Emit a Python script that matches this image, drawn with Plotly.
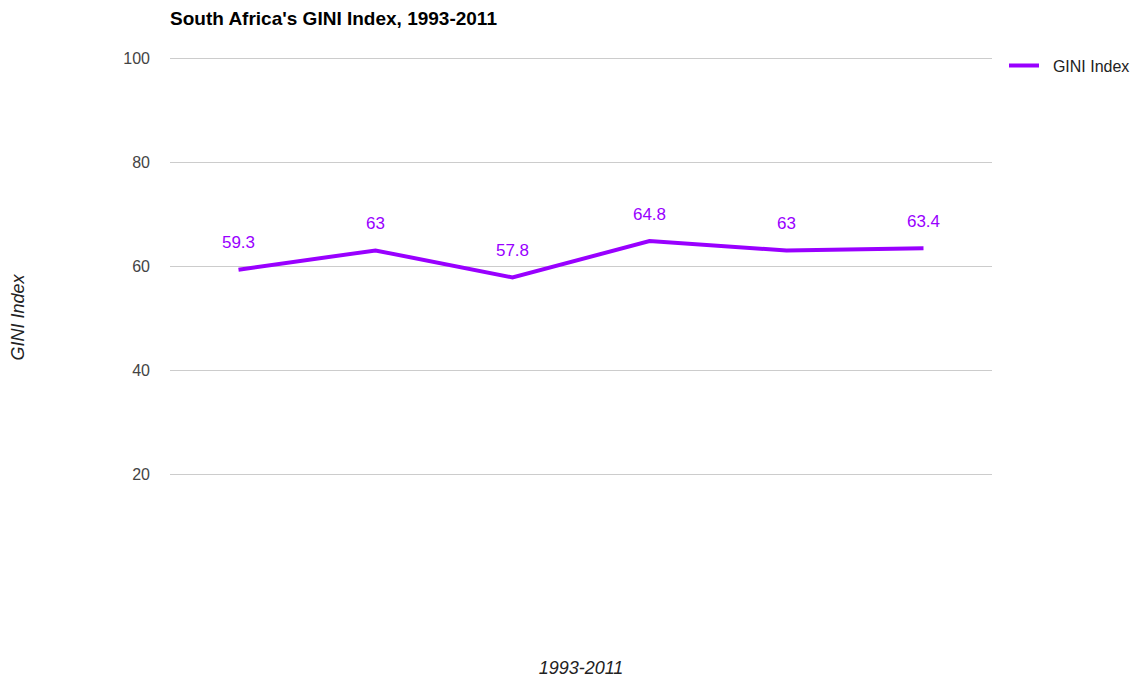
import plotly.graph_objects as go

categories = ["1993", "1995", "2000", "2005", "2008", "2011"]
gini_values = [59.3, 63, 57.8, 64.8, 63, 63.4]
y_ticks = [20, 40, 60, 80, 100]

color = "#9900ff"
font_family = "Arial, Liberation Sans, sans-serif"

fig = go.Figure()
fig.add_trace(go.Scatter(
    x=categories, y=gini_values, mode="lines+markers+text", name="\u00a0\u00a0GINI Index",
    line=dict(color=color, width=4),
    text=[str(v) for v in gini_values], textposition="top center",
    textfont=dict(color=color, size=17, family=font_family),
    marker=dict(size=26, color="rgba(0,0,0,0)", line=dict(width=0)),
    cliponaxis=False,
))

# page body has an 8px margin; compensate so plot sits where the reference has it
fig.update_layout(
    width=1141, height=679,
    margin=dict(l=162, r=157, t=49, b=109),
    paper_bgcolor="white", plot_bgcolor="white",
    font=dict(family=font_family, color="#444444", size=16),
    title=dict(text="<b>South Africa's GINI Index, 1993-2011</b>", x=162/1141, xanchor="left",
               y=1 - 10/679, yanchor="middle", font=dict(size=19, color="#000000")),
    showlegend=True,
    legend=dict(xref="container", yref="container", x=996/1141, xanchor="left",
                y=1 - 40.7/679, yanchor="top",
                font=dict(size=16, color="#222222"), bgcolor="rgba(0,0,0,0)"),
    xaxis=dict(type="category", range=[-0.5, 5.5], showticklabels=False, showgrid=False,
               zeroline=False, showline=False, ticks="",
               title=dict(text="<i>1993-2011</i>", standoff=83, font=dict(size=18, color="#222222")),
               automargin=False),
    yaxis=dict(range=[0, 100.2], tickvals=y_ticks, showgrid=True, gridcolor="#cccccc", gridwidth=1,
               zeroline=False, showline=False, ticks="", ticklabelstandoff=19,
               tickfont=dict(size=16, color="#444444"),
               title=dict(text="<i>GINI Index</i>", standoff=100, font=dict(size=18, color="#222222")),
               automargin=False),
)

fig.write_html("out.html")
